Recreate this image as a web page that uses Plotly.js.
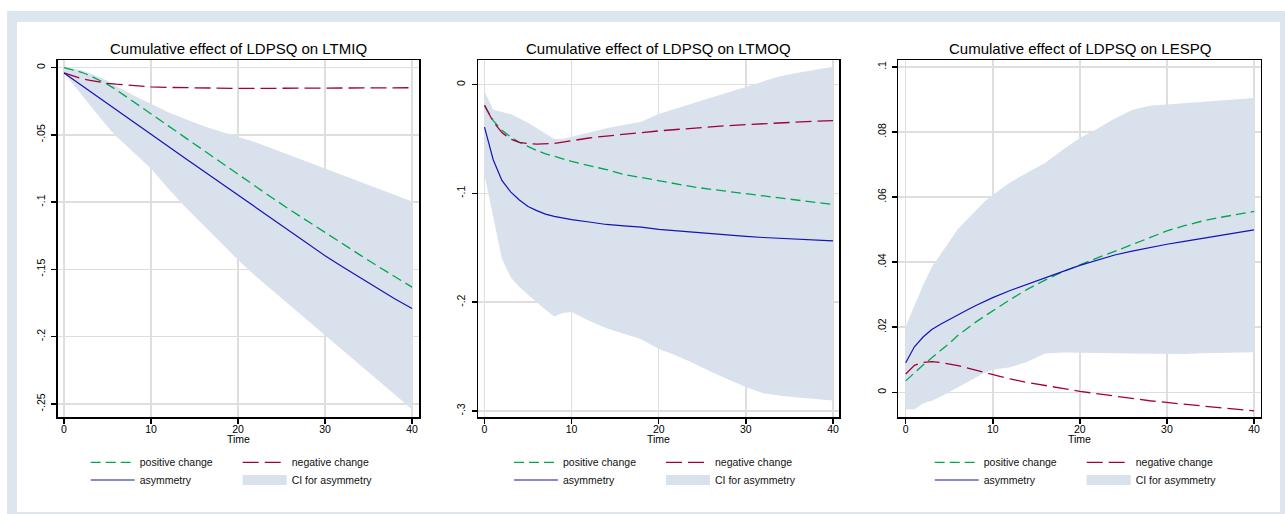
<!DOCTYPE html>
<html>
<head>
<meta charset="utf-8">
<script src="https://cdn.plot.ly/plotly-3.0.1.min.js"></script>
<style>
html,body{margin:0;padding:0;background:#ffffff;}
#chart{width:1285px;height:514px;}
</style>
</head>
<body>
<div id="chart"></div>
<script>
// ---------------- data ----------------
const time = [0,1,2,3,4,5,6,7,8,9,10,12,14,16,18,20,22,24,26,28,30,32,34,36,38,40];

const panelTitles = [
  "Cumulative effect of LDPSQ on LTMIQ",
  "Cumulative effect of LDPSQ on LTMOQ",
  "Cumulative effect of LDPSQ on LESPQ"
];
const seriesNames = ["positive change", "negative change", "asymmetry", "CI for asymmetry"];
const xAxisTitle = "Time";

// Panel 1: LTMIQ
const posLTMIQ  = [0,-0.0015,-0.0035,-0.006,-0.009,-0.0125,-0.0165,-0.021,-0.0255,-0.030,-0.0345,-0.0435,-0.0525,-0.0615,-0.0705,-0.0795,-0.0885,-0.0972,-0.1058,-0.1143,-0.1227,-0.131,-0.1392,-0.1474,-0.1554,-0.1632];
const negLTMIQ  = [-0.004,-0.0062,-0.0081,-0.0096,-0.0108,-0.0117,-0.0124,-0.013,-0.0135,-0.0139,-0.0143,-0.0148,-0.0151,-0.0153,-0.0154,-0.0155,-0.0155,-0.0155,-0.0155,-0.0154,-0.0154,-0.0153,-0.0152,-0.0152,-0.0151,-0.015];
const asymLTMIQ = [-0.004,-0.0086,-0.0132,-0.0178,-0.0224,-0.027,-0.0315,-0.036,-0.0405,-0.045,-0.0495,-0.0586,-0.0677,-0.0768,-0.0859,-0.095,-0.1041,-0.1132,-0.1222,-0.1311,-0.1398,-0.1481,-0.1561,-0.1641,-0.1718,-0.179];
const ciLoLTMIQ = [-0.004,-0.012,-0.020,-0.028,-0.036,-0.044,-0.051,-0.057,-0.063,-0.069,-0.075,-0.090,-0.104,-0.117,-0.130,-0.143,-0.155,-0.166,-0.177,-0.188,-0.199,-0.210,-0.221,-0.232,-0.243,-0.254];
const ciHiLTMIQ = [0,-0.0008,-0.002,-0.0045,-0.007,-0.0098,-0.0138,-0.0175,-0.0208,-0.024,-0.027,-0.0332,-0.0385,-0.0435,-0.0475,-0.0515,-0.0555,-0.0604,-0.0653,-0.0702,-0.0751,-0.08,-0.0849,-0.0897,-0.0946,-0.0995];

// Panel 2: LTMOQ
const posLTMOQ  = [-0.019,-0.033,-0.042,-0.048,-0.053,-0.057,-0.0605,-0.0635,-0.066,-0.068,-0.0705,-0.0745,-0.078,-0.0825,-0.0855,-0.088,-0.0915,-0.094,-0.0962,-0.0983,-0.1003,-0.1022,-0.104,-0.1063,-0.1082,-0.1101];
const negLTMOQ  = [-0.019,-0.034,-0.044,-0.050,-0.053,-0.0542,-0.0547,-0.0545,-0.054,-0.0528,-0.0515,-0.049,-0.0472,-0.0455,-0.044,-0.0425,-0.0412,-0.0398,-0.0386,-0.0376,-0.0367,-0.0358,-0.0349,-0.0342,-0.0336,-0.0331];
const asymLTMOQ = [-0.039,-0.069,-0.088,-0.0985,-0.106,-0.112,-0.1158,-0.119,-0.121,-0.1225,-0.124,-0.1262,-0.1285,-0.1298,-0.131,-0.133,-0.1344,-0.1358,-0.137,-0.1382,-0.1394,-0.1405,-0.1413,-0.142,-0.1428,-0.1436];
const ciLoLTMOQ = [-0.083,-0.1215,-0.160,-0.177,-0.186,-0.193,-0.200,-0.207,-0.213,-0.210,-0.209,-0.217,-0.224,-0.229,-0.234,-0.243,-0.249,-0.256,-0.264,-0.271,-0.278,-0.2836,-0.286,-0.2875,-0.289,-0.2903];
const ciHiLTMOQ = [-0.006,-0.023,-0.025,-0.027,-0.031,-0.035,-0.040,-0.045,-0.050,-0.050,-0.048,-0.044,-0.040,-0.037,-0.034,-0.027,-0.022,-0.017,-0.012,-0.007,-0.0015,0.003,0.008,0.011,0.014,0.0166];

// Panel 3: LESPQ
const posLESPQ  = [0.0035,0.006,0.0084,0.0106,0.0128,0.015,0.0175,0.0196,0.0215,0.0233,0.0251,0.0285,0.0317,0.0345,0.037,0.0392,0.0413,0.0433,0.0454,0.0476,0.0496,0.0512,0.0526,0.0537,0.0547,0.0556];
const negLESPQ  = [0.0056,0.0083,0.0092,0.0094,0.0092,0.0088,0.0082,0.0075,0.0068,0.0061,0.0053,0.0041,0.003,0.002,0.0012,0.0003,-0.0005,-0.0012,-0.0019,-0.0026,-0.0032,-0.0037,-0.0042,-0.0047,-0.0052,-0.0057];
const asymLESPQ = [0.0091,0.014,0.017,0.0193,0.0209,0.0224,0.0238,0.0252,0.0266,0.0279,0.0291,0.0313,0.0333,0.0352,0.0371,0.039,0.0407,0.0422,0.0434,0.0445,0.0455,0.0464,0.0473,0.0481,0.049,0.0499];
const ciLoLESPQ = [-0.0052,-0.0053,-0.0034,-0.0026,-0.0014,0.0001,0.0016,0.0031,0.0046,0.0059,0.0069,0.0077,0.0094,0.0119,0.0122,0.0122,0.0121,0.012,0.0119,0.0118,0.0117,0.0118,0.012,0.0121,0.0122,0.0123];
const ciHiLESPQ = [0.0202,0.0265,0.033,0.0385,0.0425,0.0465,0.0502,0.053,0.0558,0.0585,0.0607,0.0645,0.0676,0.0705,0.0745,0.0782,0.081,0.0842,0.0868,0.0881,0.0885,0.0889,0.0893,0.0898,0.0902,0.0905];

const xTickVals = [0,10,20,30,40];
const xTickText = ["0","10","20","30","40"];
const yTickVals1 = [0,-0.05,-0.1,-0.15,-0.2,-0.25];
const yTickText1 = ["0","-.05","-.1","-.15","-.2","-.25"];
const yTickVals2 = [0,-0.1,-0.2,-0.3];
const yTickText2 = ["0","-.1","-.2","-.3"];
const yTickVals3 = [0,0.02,0.04,0.06,0.08,0.1];
const yTickText3 = ["0",".02",".04",".06",".08",".1"];

// ---------------- styling / layout ----------------
const W = 1285, H = 514;
const FONT = "Liberation Sans, Arial, Helvetica, sans-serif";
const GREEN = "#00a650";
const RED = "#a0003c";
const BLUE = "#1414b4";
const CI = "#d9e1ec";
const FRAME = "#dce6ec";
const GRID = "#dedede";

const px = v => v / W;
const py = v => 1 - v / H;

// plot-region pixel boxes and axis ranges
const panels = [
  {left:57.5, right:419,  xr:[-0.747,40.80], yr:[-0.2597,0.0056], tv:yTickVals1, tt:yTickText1,
   pos:posLTMIQ, neg:negLTMIQ, asym:asymLTMIQ, lo:ciLoLTMIQ, hi:ciHiLTMIQ, legX:91.7},
  {left:478,  right:839,  xr:[-0.746,40.69], yr:[-0.3055,0.0227], tv:yTickVals2, tt:yTickText2,
   pos:posLTMOQ, neg:negLTMOQ, asym:asymLTMOQ, lo:ciLoLTMOQ, hi:ciHiLTMOQ, legX:515},
  {left:898.3,right:1260.7,xr:[-0.85,40.77], yr:[-0.0076,0.10215], tv:yTickVals3, tt:yTickText3,
   pos:posLESPQ, neg:negLESPQ, asym:asymLESPQ, lo:ciLoLESPQ, hi:ciHiLESPQ, legX:935.7}
];
const plotTop = 60, plotBottom = 417;

const traces = [];
const layout = {
  width: W, height: H,
  margin: {l:0, r:0, t:0, b:0, pad:0},
  paper_bgcolor: "#ffffff",
  plot_bgcolor: "#ffffff",
  font: {family: FONT, color: "#000000", size: 10.5},
  showlegend: true,
  hovermode: false,
  annotations: [],
  shapes: [
    {type:"rect", xref:"paper", yref:"paper", x0:px(7), x1:px(1285), y0:py(514), y1:py(11),
     fillcolor:FRAME, line:{width:0}, layer:"below"},
    {type:"rect", xref:"paper", yref:"paper", x0:px(17), x1:px(1280), y0:py(512), y1:py(22),
     fillcolor:"#ffffff", line:{width:0}, layer:"below"}
  ]
};

const ITEMW = 44;
function legendCfg(xpx, ypx) {
  return {
    orientation: "h",
    x: px(xpx), y: py(ypx), xanchor: "left", yanchor: "middle",
    bgcolor: "rgba(0,0,0,0)", borderwidth: 0,
    font: {family: FONT, size: 10.5, color: "#111111"},
    itemwidth: ITEMW, entrywidth: 152 - (ITEMW + 10) - 5, entrywidthmode: "pixels",
    traceorder: "normal", itemclick: false, itemdoubleclick: false
  };
}

panels.forEach((p, i) => {
  const k = i + 1;
  const xa = k === 1 ? "x" : "x" + k;
  const ya = k === 1 ? "y" : "y" + k;
  const xKey = k === 1 ? "xaxis" : "xaxis" + k;
  const yKey = k === 1 ? "yaxis" : "yaxis" + k;
  const legA = "legend" + (2 * i + 1 === 1 ? "" : (2 * i + 1));
  const legB = "legend" + (2 * i + 2);

  traces.push({x: time, y: p.lo, xaxis: xa, yaxis: ya, type: "scatter", mode: "lines",
               line: {width: 0, color: CI}, showlegend: false, hoverinfo: "skip"});
  traces.push({x: time, y: p.hi, xaxis: xa, yaxis: ya, type: "scatter", mode: "lines",
               line: {width: 0, color: CI}, fill: "tonexty", fillcolor: CI,
               showlegend: false, hoverinfo: "skip"});
  traces.push({x: time, y: p.pos, xaxis: xa, yaxis: ya, type: "scatter", mode: "lines",
               name: seriesNames[0], legend: legA,
               line: {color: GREEN, width: 1.3, dash: "10px,5px"}});
  traces.push({x: time, y: p.neg, xaxis: xa, yaxis: ya, type: "scatter", mode: "lines",
               name: seriesNames[1], legend: legA,
               line: {color: RED, width: 1.3, dash: "16px,6px"}});
  traces.push({x: time, y: p.asym, xaxis: xa, yaxis: ya, type: "scatter", mode: "lines",
               name: seriesNames[2], legend: legB,
               line: {color: BLUE, width: 1.2}});
  traces.push({x: [null], y: [null], xaxis: xa, yaxis: ya, type: "scatter", mode: "lines",
               name: seriesNames[3], legend: legB,
               line: {color: CI, width: 10}});

  layout[xKey] = {
    domain: [px(p.left), px(p.right)], anchor: ya, range: p.xr, fixedrange: true,
    tickmode: "array", tickvals: xTickVals, ticktext: xTickText,
    ticks: "outside", ticklen: 5, tickwidth: 1.5, tickcolor: "#000",
    showline: true, linecolor: "#000", linewidth: 1.5, mirror: true,
    showgrid: true, gridcolor: GRID, gridwidth: 1.5, zeroline: false,
    ticklabelstandoff: -3,
    tickfont: {family: FONT, size: 10.5, color: "#000"}
  };
  layout[yKey] = {
    domain: [py(plotBottom), py(plotTop)], anchor: xa, range: p.yr, fixedrange: true,
    tickmode: "array", tickvals: p.tv, ticktext: p.tt, tickangle: -90,
    ticks: "outside", ticklen: 5, tickwidth: 1.5, tickcolor: "#000",
    showline: true, linecolor: "#000", linewidth: 1.5, mirror: true,
    showgrid: true, gridcolor: GRID, gridwidth: 1.5, zeroline: false,
    ticklabelstandoff: 2,
    tickfont: {family: FONT, size: 10.5, color: "#000"}
  };

  layout.annotations.push({
    text: panelTitles[i], xref: "paper", yref: "paper",
    x: px((p.left + p.right) / 2), y: py(48), xanchor: "center", yanchor: "middle",
    showarrow: false, font: {family: FONT, size: 15, color: "#000"}
  });
  // x-axis title "Time", placed right under the tick labels as in the reference
  layout.annotations.push({
    text: xAxisTitle, xref: "paper", yref: "paper",
    x: px((p.left + p.right) / 2), y: py(438.5), xanchor: "center", yanchor: "middle",
    showarrow: false, font: {family: FONT, size: 10.5, color: "#000"}
  });

  layout[legA] = legendCfg(p.legX - 6, 462.3);
  layout[legB] = legendCfg(p.legX - 6, 480);
});

Plotly.newPlot("chart", traces, layout, {staticPlot: true, displayModeBar: false});
</script>
</body>
</html>
